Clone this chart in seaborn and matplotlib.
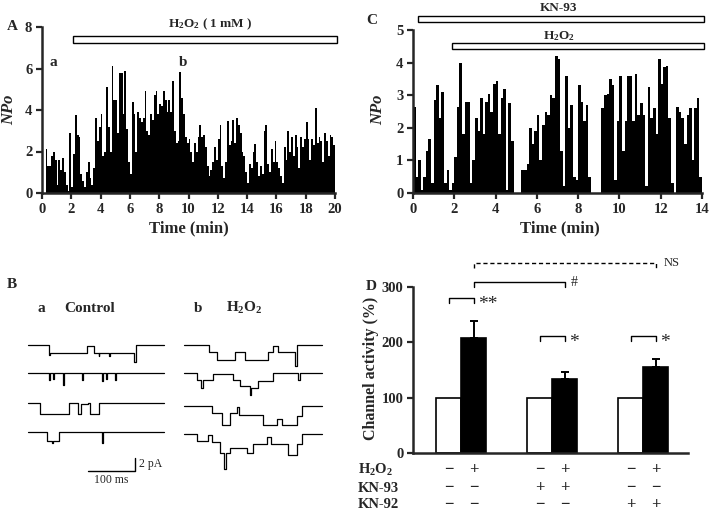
import numpy as np
import pandas as pd
import matplotlib
matplotlib.use("Agg")
import matplotlib.pyplot as plt
import matplotlib.transforms as mtrans
import seaborn as sns

# ---- data: panel A (NPo, 0.125 min bins from 0.25 min) ----
a_start = 0.25
a_bin = 0.125
npo_a = [
    2.1, 1.3, 1.3, 1.8, 2.0, 1.6,
    0.4, 1.6, 1.1, 1.7, 1.0, 0.4, 0.1, 2.9,
    0.3, 1.9, 3.75, 2.8, 2.7, 0.9, 0.6, 0.3,
    1.0, 1.5, 0.7, 0.4, 1.2, 3.6, 2.5, 3.2,
    3.8, 1.8, 2.0, 5.1, 3.2, 2.0, 6.1, 4.5,
    4.5, 2.9, 5.8, 5.8, 3.8, 5.9, 3.1, 1.5,
    0.9, 4.4, 3.8, 2.0, 3.9, 3.6, 3.4, 3.6,
    4.9, 3.0, 2.8, 3.8, 3.5, 4.7, 4.9, 3.8,
    4.3, 4.2, 4.9, 4.5, 3.9, 4.5, 3.9, 5.4,
    3.0, 2.4, 2.5, 5.85, 4.6, 3.8, 2.7, 2.4,
    2.6, 2.0, 1.5, 2.4, 2.0, 2.7, 3.3, 2.7,
    2.8, 2.2, 1.3, 0.8, 1.1, 1.5, 2.2, 1.6,
    2.6, 3.3, 1.3, 0.7, 1.5, 3.45, 2.3, 2.5,
    3.5, 2.4, 3.6, 3.3, 2.9, 2.0, 1.8, 1.0,
    0.5, 1.4, 1.2, 2.0, 2.35, 1.5, 0.8, 1.3,
    0.9, 3.0, 3.3, 1.4, 1.0, 2.1, 1.5, 2.5,
    1.5, 1.2, 0.8, 0.5, 2.2, 1.6, 3.0, 2.0,
    2.7, 1.8, 2.8, 2.2, 1.2, 2.7, 2.2, 2.6,
    3.4, 2.6, 1.6, 2.6, 2.3, 4.1, 2.4, 2.7,
    2.5, 1.5, 2.9, 2.5, 1.8, 2.8, 2.7, 2.3,
]

# ---- data: panel C (NPo, 0.125 min bins from 0 min) ----
c_start = 0.0
c_bin = 0.125
npo_c = [
    2.65, 0.5, 1.0, 0.1, 0.5, 1.3, 1.65, 0.3,
    2.85, 3.3, 2.3, 3.1, 0.3, 0.7, 0.1, 0.3,
    1.1, 2.65, 4.0, 1.8, 2.8, 2.8, 0.3, 1.0,
    2.3, 1.9, 2.9, 1.8, 2.8, 3.05, 2.5, 3.35,
    3.45, 1.8, 2.9, 3.2, 0.1, 2.75, 1.6, 0.0,
    0.0, 0.0, 0.7, 0.7, 0.9, 2.0, 1.5, 1.9,
    2.4, 1.0, 2.1, 2.5, 2.4, 3.0, 2.9, 4.2,
    4.1, 1.3, 0.2, 3.6, 2.0, 2.7, 0.5, 0.4,
    3.3, 2.8, 2.2, 2.7, 0.5, 0.0, 0.0, 0.0,
    0.0, 2.6, 3.0, 3.05, 3.5, 3.3, 0.4, 2.2,
    3.6, 1.3, 2.2, 3.6, 3.6, 2.2, 3.65, 2.4,
    2.75, 2.4, 0.2, 3.25, 2.3, 2.6, 1.8, 4.1,
    3.35, 3.85, 3.9, 2.3, 0.3, 0.0, 2.65, 2.5,
    2.3, 1.5, 2.4, 2.6, 1.0, 2.6, 2.9, 0.5,
]

# ---- data: panel B single-channel traces (duration ms, amplitude pA) ----
control_traces = [
    [(45, 0), (2, 1.5), (78, 1.25), (15, 0.2), (10, 1.25), (2, 1.7), (20, 1.25),
     (2, 1.7), (52, 1.25), (3, 2.5), (61, 0)],
    [(45, 0), (2, 1.0), (7, 0), (2, 0.9), (19, 0), (2, 1.75), (37, 0), (2, 1.0),
     (41, 0), (2, 1.2), (8, 0), (2, 0.9), (16, 0), (2, 1.0), (103, 0)],
    [(25, 0), (62, 1.7), (19, 0), (7, 1.6), (14, 0.1), (4, 0), (19, 1.7), (140, 0)],
    [(40, 0), (10, 1.4), (4, 1.7), (11, 1.4), (92, 0), (2, 1.65), (131, 0)],
]
h2o2_traces = [
    [(54, 0), (16, 1.0), (38, 2.2), (22, 1.0), (49, 2.2), (11, 1.0), (11, 0.1),
     (35, 1.0), (4, 3.2), (53, 0)],
    [(27, 0), (10, 1.0), (3, 2.2), (22, 1.1), (43, 0.1), (14, 1.1), (21, 1.9),
     (3, 3.3), (15, 2.2), (32, 1.2), (53, 0), (3, 1.1), (47, 0)],
    [(59, 0), (21, 1.1), (18, 2.8), (14, 1.1), (4, 0.1), (53, 1.4), (28, 2.8),
     (11, 2.0), (32, 2.8), (10, 1.5), (43, 0)],
    [(27, 0), (25, 1.1), (7, 0.2), (17, 1.2), (10, 2.8), (3, 5.2), (9, 2.8),
     (35, 2.1), (14, 2.8), (29, 1.5), (10, 0.5), (36, 1.5), (18, 3.2), (10, 1.5), (43, 0)],
]

# ---- data: panel D ----
groups = ["g1", "g2", "g3"]
conditions = ["control", "h2o2"]
activity_ctrl = [100, 100, 100]
activity_h2o2 = [207, 133, 156]
sem_h2o2 = [31, 14, 14]
row_labels = ["H$_2$O$_2$", "KN-93", "KN-92"]
row_signs = [
    ["−", "+", "−", "+", "−", "+"],
    ["−", "−", "+", "+", "−", "−"],
    ["−", "−", "−", "−", "+", "+"],
]

# ---- style ----
sns.set_style("ticks")
plt.rcParams["font.family"] = ["Liberation Serif", "DejaVu Serif"]
plt.rcParams["font.weight"] = "bold"
plt.rcParams["mathtext.fontset"] = "custom"
plt.rcParams["mathtext.rm"] = "Liberation Serif:bold"
plt.rcParams["mathtext.bf"] = "Liberation Serif:bold"
plt.rcParams["mathtext.it"] = "Liberation Serif:bold:italic"

W, H = 710, 518
fig = plt.figure(figsize=(W / 100, H / 100), dpi=100)
fig.patch.set_facecolor("white")


def box(l, t, r, b):
    return [l / W, 1 - b / H, (r - l) / W, (b - t) / H]


def ftext(px, py, s, **kw):
    kw.setdefault("fontweight", "bold")
    fig.text(px / W, 1 - py / H, s, **kw)


def style_axis(ax):
    sns.despine(ax=ax)
    for sp in ["left", "bottom"]:
        ax.spines[sp].set_linewidth(1.8)
    ax.tick_params(direction="out", length=4, width=1.6, labelsize=10.5, pad=3)
    for lab in ax.get_xticklabels() + ax.get_yticklabels():
        lab.set_fontweight("bold")


def npo_panel(ax, start, width, vals, xmax, ymax, xticks, yticks):
    edges = start + width * np.arange(len(vals) + 1)
    d = pd.DataFrame({"t": (edges[:-1] + edges[1:]) / 2, "npo": vals})
    sns.histplot(data=d, x="t", weights="npo", bins=list(edges), ax=ax,
                 color="black", linewidth=0, alpha=1)
    ax.set_xlim(0, xmax)
    ax.set_ylim(0, ymax)
    ax.set_xticks(list(xticks))
    ax.set_yticks(list(yticks))
    ax.set_xlabel("")
    ax.set_ylabel("")
    style_axis(ax)


def drug_bar(ax, x0, x1, y0, y1):
    ax.add_patch(plt.Rectangle((x0, y0), x1 - x0, y1 - y0, facecolor="white",
                               edgecolor="black", linewidth=1.0, clip_on=False))


# ---- panel A ----
axA = fig.add_axes(box(42, 27, 335, 193))
npo_panel(axA, a_start, a_bin, npo_a, 20, 8, range(0, 21, 2), range(0, 9, 2))
drug_bar(axA, 2.1, 20.15, 7.23, 7.57)
axA.text(11.5, 8.15, "H$_2$O$_2$ ( 1 mM )", ha="center", va="center",
         fontsize=9.5, fontweight="bold", clip_on=False)
ftext(12, 27, "A", fontsize=11, ha="center", va="center")
ftext(53, 62, "a", fontsize=11, ha="center", va="center")
ftext(183, 62, "b", fontsize=11, ha="center", va="center")
ftext(9, 110, "NPo", fontsize=12, ha="center", va="center", rotation=90, style="italic")
ftext(189, 228, "Time (min)", fontsize=12, ha="center", va="center")

# ---- panel C ----
axC = fig.add_axes(box(413, 30, 702, 193))
npo_panel(axC, c_start, c_bin, npo_c, 14, 5, range(0, 15, 2), range(0, 6))
drug_bar(axC, 0.24, 14.1, 5.25, 5.43)
drug_bar(axC, 1.87, 14.1, 4.42, 4.6)
axC.text(7.05, 5.68, "KN-93", ha="center", va="center", fontsize=9.5,
         fontweight="bold", clip_on=False)
axC.text(7.05, 4.82, "H$_2$O$_2$", ha="center", va="center", fontsize=9.5,
         fontweight="bold", clip_on=False)
ftext(372, 20, "C", fontsize=11, ha="center", va="center")
ftext(378, 110, "NPo", fontsize=12, ha="center", va="center", rotation=90, style="italic")
ftext(560, 228, "Time (min)", fontsize=12, ha="center", va="center")

# ---- panel B: traces ----
axB = fig.add_axes(box(0, 330, 360, 500))
axB.set_xlim(-28 / 0.47, (360 - 28) / 0.47)
axB.set_ylim(-(500 - 345) / 6.67, (345 - 330) / 6.67)
axB.axis("off")


def draw_trace(segs, x0, y0):
    t = [0.0]
    amp = []
    for d, a in segs:
        t.append(t[-1] + d)
        amp.append(a)
    t = np.array(t) + x0
    y = y0 - np.array(amp + [amp[-1]])
    axB.plot(t, y, drawstyle="steps-post", color="black", linewidth=0.9)


ctrl_rows = [0, -(373 - 345) / 6.67, -(403 - 345) / 6.67, -(432 - 345) / 6.67]
h2o2_rows = [0, -(373 - 345) / 6.67, -(406 - 345) / 6.67, -(434 - 345) / 6.67]
for segs, y0 in zip(control_traces, ctrl_rows):
    draw_trace(segs, 0, y0)
for segs, y0 in zip(h2o2_traces, h2o2_rows):
    draw_trace(segs, (184 - 28) / 0.47, y0)

# scale bar
sb_y = -(471 - 345) / 6.67
axB.plot([127.7, 227.7, 227.7], [sb_y, sb_y, sb_y + 2], color="black", linewidth=1.0)
axB.text(236, sb_y + 1.1, "2 pA", fontsize=8.5, fontweight="normal", va="center")
axB.text(177.7, sb_y - 1.4, "100 ms", fontsize=8.5, fontweight="normal",
         ha="center", va="center")
ftext(12, 285, "B", fontsize=11, ha="center", va="center")
ftext(41, 308, "a", fontsize=11, ha="center", va="center")
ftext(64, 308, "Control", fontsize=11, ha="left", va="center")
ftext(198, 308, "b", fontsize=11, ha="center", va="center")
ftext(226, 308, "H$_2$O$_2$", fontsize=11, ha="left", va="center")

# ---- panel D ----
axD = fig.add_axes(box(413, 287, 688, 453))
df = pd.DataFrame({
    "group": groups * 2,
    "cond": [conditions[0]] * 3 + [conditions[1]] * 3,
    "activity": activity_ctrl + activity_h2o2,
})
sns.barplot(data=df, x="group", y="activity", hue="cond", order=groups,
            hue_order=conditions, palette={"control": "white", "h2o2": "black"},
            width=0.55, edgecolor="black", linewidth=1.2, errorbar=None,
            legend=False, ax=axD)
bars = axD.patches
white_x = [p.get_x() + p.get_width() / 2 for p in bars[:3]]
black_x = [p.get_x() + p.get_width() / 2 for p in bars[3:6]]
axD.errorbar(black_x, activity_h2o2, yerr=[np.zeros(3), sem_h2o2], fmt="none",
             ecolor="black", elinewidth=1.4, capsize=3, capthick=1.4, zorder=5)
axD.set_xlim(-0.53, 2.49)
axD.set_ylim(0, 300)
axD.set_yticks([0, 100, 200, 300])
axD.set_xticks([])
axD.set_xlabel("")
axD.set_ylabel("")
style_axis(axD)
ftext(371, 286, "D", fontsize=11, ha="center", va="center")
ftext(371, 368, "Channel activity (%)", fontsize=11.5, ha="center", va="center",
      rotation=90)


def bracket(x1, x2, y, drop, ls="-"):
    axD.plot([x1, x1, x2, x2], [y - drop, y, y, y - drop], color="black",
             linewidth=1.0, linestyle=ls, clip_on=False)


bracket(white_x[0], black_x[0], 280, 9)
bracket(white_x[1], black_x[1], 211, 9)
bracket(white_x[2], black_x[2], 211, 9)
bracket(black_x[0], black_x[1], 309, 9)
bracket(black_x[0], black_x[2], 343, 9, ls=(0, (3, 2)))
for x, y, s in [(black_x[0], 268, "**"), (black_x[1], 199, "*"), (black_x[2], 199, "*")]:
    axD.text(x + 0.05, y, s, fontsize=14, fontweight="normal", ha="left",
             va="center", clip_on=False)
axD.text(black_x[1] + 0.06, 309, "#", fontsize=10, fontweight="normal",
         ha="left", va="center", clip_on=False)
axD.text(black_x[2] + 0.09, 343, "NS", fontsize=9, fontweight="normal",
         ha="left", va="center", clip_on=False)

# condition table under the bars
trans = mtrans.blended_transform_factory(axD.transData, axD.transAxes)
xs = [v for pair in zip(white_x, black_x) for v in pair]
row_y = [-(470 - 453) / 166, -(488 - 453) / 166, -(505 - 453) / 166]
for lab, signs, ry in zip(row_labels, row_signs, row_y):
    axD.text(-0.2, ry, lab, transform=axD.transAxes, fontsize=10.5,
             fontweight="bold", ha="left", va="center")
    for x, s in zip(xs, signs):
        axD.text(x, ry, s, transform=trans, fontsize=12, fontweight="bold",
                 ha="center", va="center")

fig.savefig("out.png", dpi=100)
